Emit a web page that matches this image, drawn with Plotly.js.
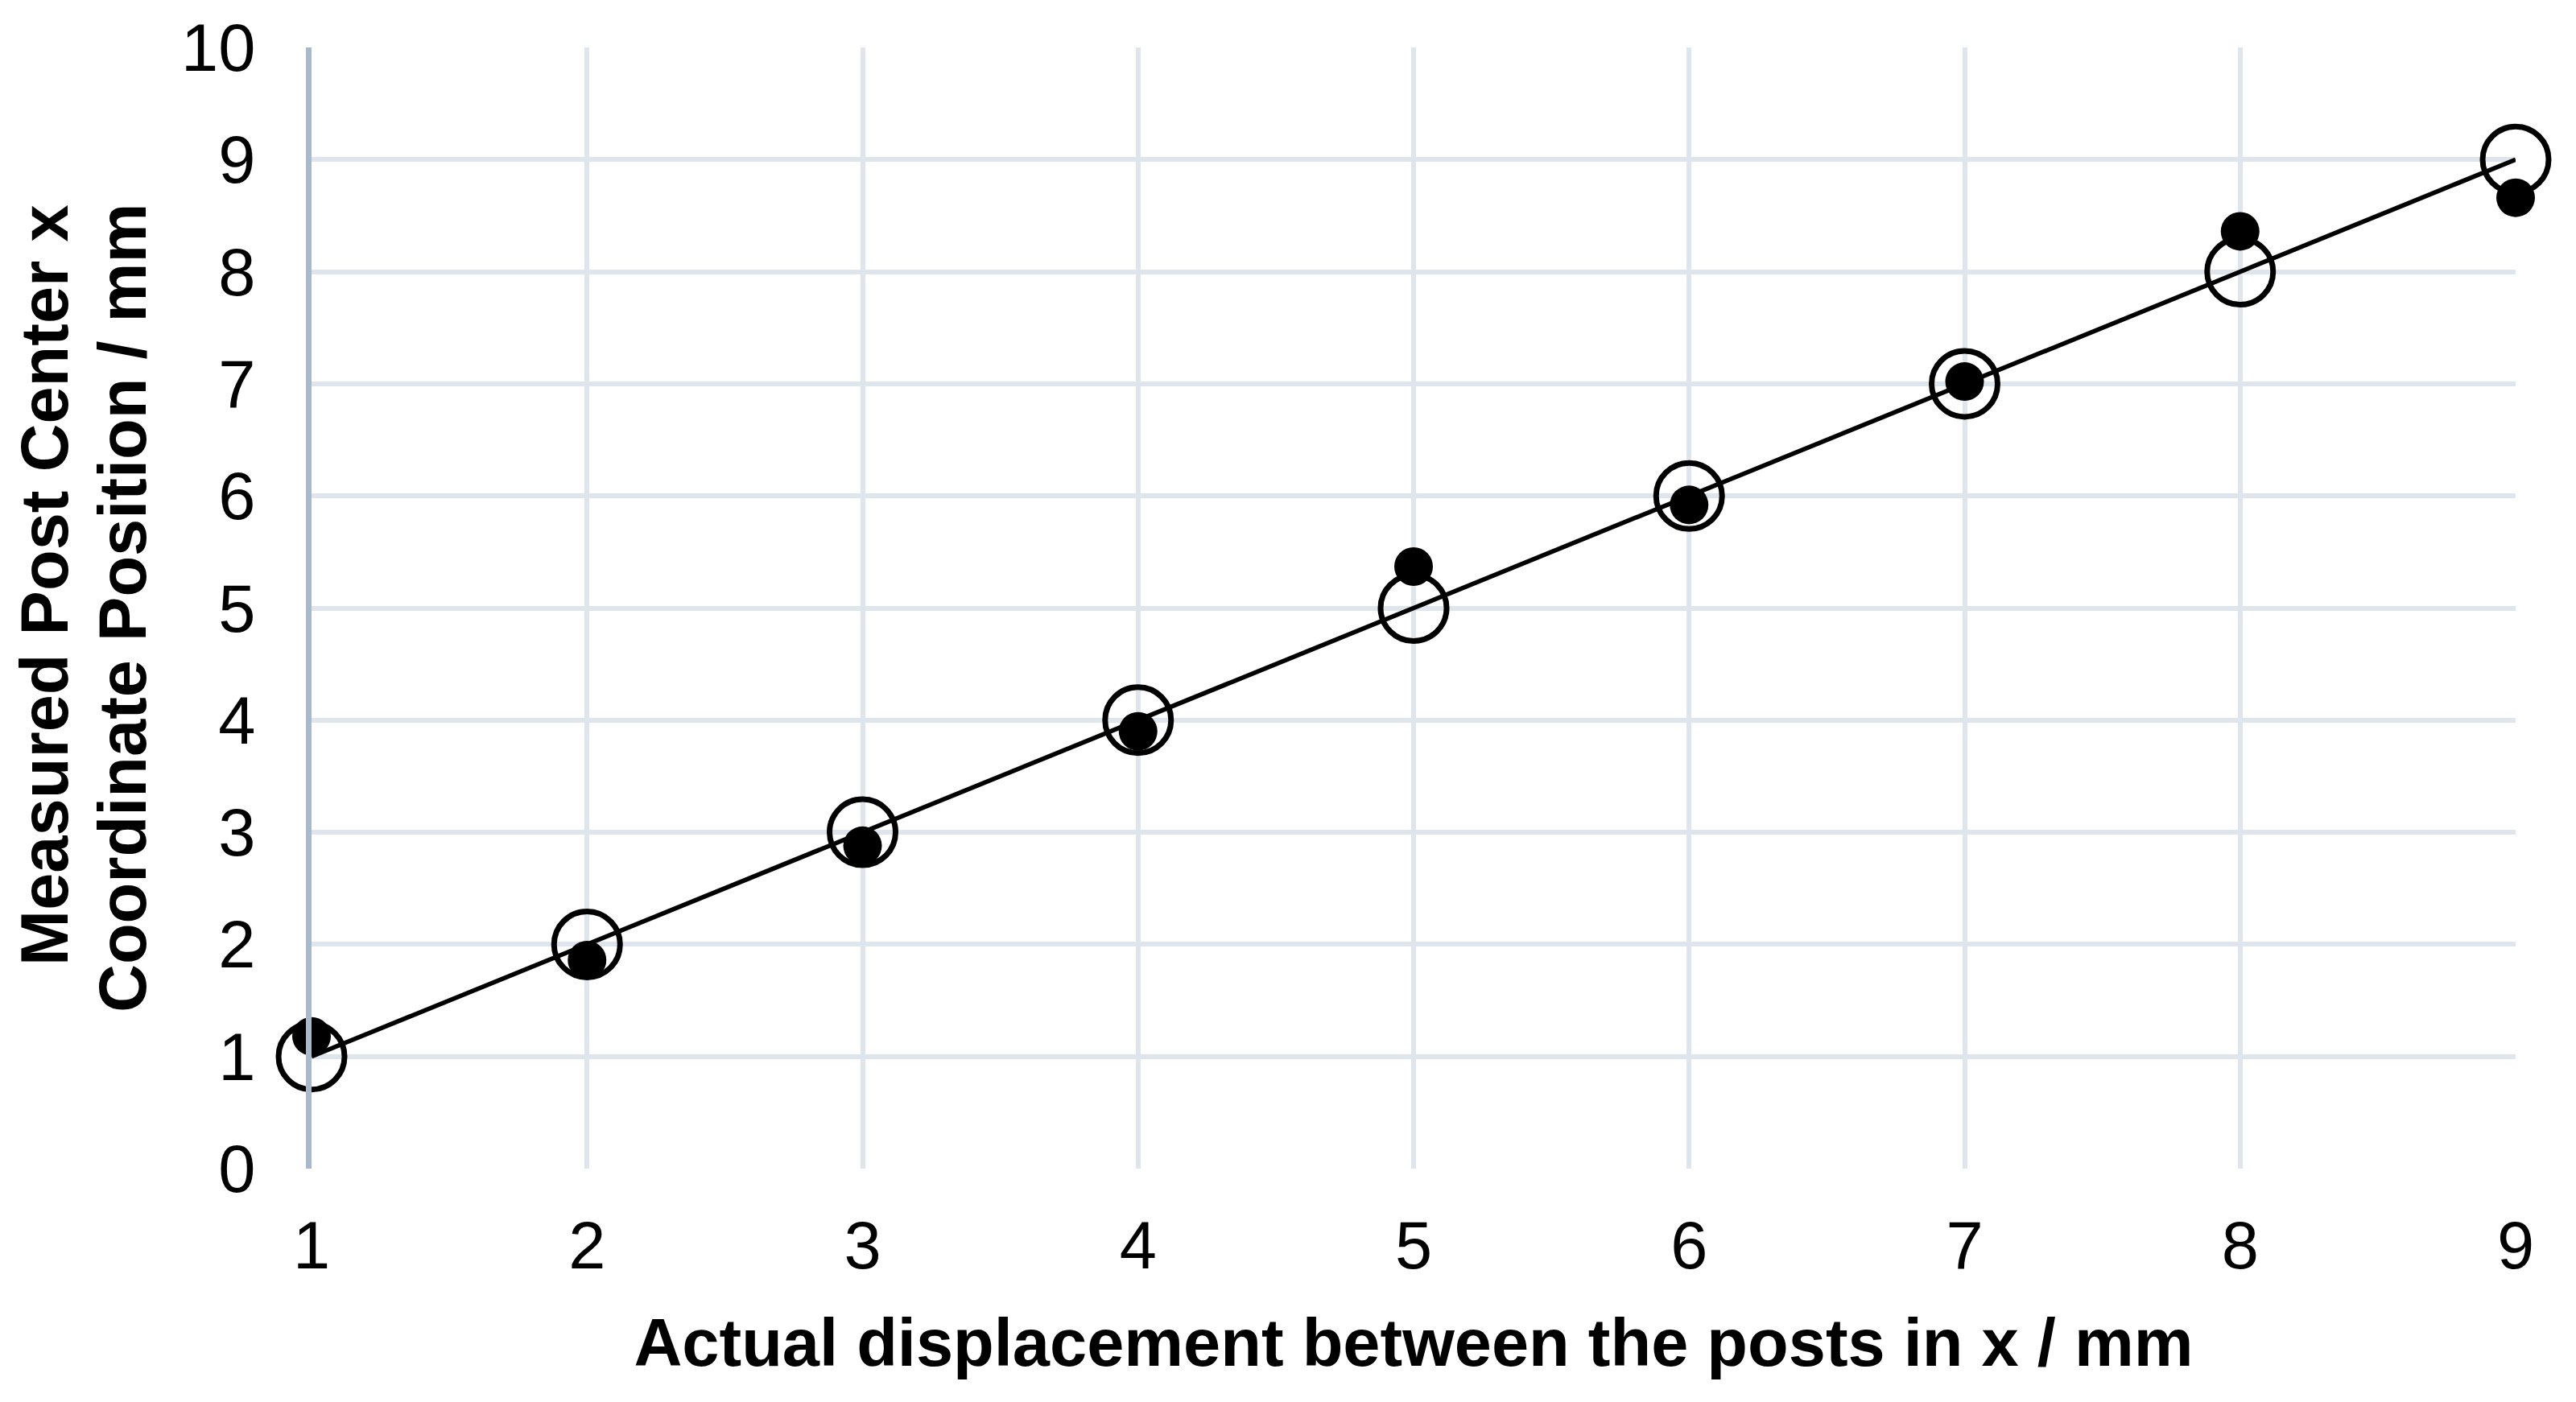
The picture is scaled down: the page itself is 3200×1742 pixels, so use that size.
<!DOCTYPE html>
<html>
<head>
<meta charset="utf-8">
<script src="https://cdn.plot.ly/plotly-3.0.1.min.js"></script>
<style>
  html, body { margin: 0; padding: 0; background: #ffffff; }
  #chart { width: 3200px; height: 1742px; }
</style>
</head>
<body>
<div id="chart"></div>
<script>
// Actual displacement between the posts (x, mm)
const actualX = [1, 2, 3, 4, 5, 6, 7, 8, 9];
// Ideal / expected positions (open circles)
const expectedY = [1, 2, 3, 4, 5, 6, 7, 8, 9];
// Measured post centre x positions (filled dots)
const measuredY = [1.18, 1.86, 2.88, 3.90, 5.37, 5.92, 7.02, 8.36, 8.66];
// Reference line y = x
const lineX = [1, 9];
const lineY = [1, 9];
// Tick labels
const xTicks = [1, 2, 3, 4, 5, 6, 7, 8, 9];
const yTicks = [0, 1, 2, 3, 4, 5, 6, 7, 8, 9, 10];
// Axis titles
const xTitle = 'Actual displacement between the posts in x / mm';
const yTitleLines = ['Measured Post Center x', 'Coordinate Position / mm'];

const FONT = 'Liberation Sans, Arial, Helvetica, sans-serif';

const traces = [
  {
    x: actualX, y: measuredY, type: 'scatter', mode: 'markers',
    marker: { symbol: 'circle', size: 48, color: '#000000' },
    cliponaxis: false, showlegend: false, name: 'Measured'
  },
  {
    x: actualX, y: expectedY, type: 'scatter', mode: 'markers',
    marker: { symbol: 'circle-open', size: 82, color: '#000000', line: { width: 7, color: '#000000' } },
    cliponaxis: false, showlegend: false, name: 'Actual'
  },
  {
    x: lineX, y: lineY, type: 'scatter', mode: 'lines',
    line: { color: '#000000', width: 5.6 },
    cliponaxis: false, showlegend: false, name: 'y = x'
  }
];

const layout = {
  width: 3200, height: 1742,
  paper_bgcolor: '#ffffff', plot_bgcolor: '#ffffff',
  margin: { l: 387, r: 75, t: 59, b: 290, pad: 0 },
  font: { family: FONT, color: '#000000', size: 83 },
  xaxis: {
    range: [1, 9], tickvals: xTicks, ticktext: xTicks.map(String),
    showgrid: true, gridcolor: '#DEE5EC', gridwidth: 6,
    zeroline: false, showline: false, ticks: '',
    ticklabelstandoff: 40,
    tickfont: { family: FONT, size: 83, color: '#000000' },
    automargin: false,
    title: { text: '<b>' + xTitle + '</b>', font: { family: FONT, size: 83, color: '#000000' }, standoff: 45 }
  },
  yaxis: {
    range: [0, 10], tickvals: yTicks, ticktext: yTicks.map(String),
    showgrid: true, gridcolor: '#DEE5EC', gridwidth: 6,
    zeroline: false, showline: true, linecolor: '#A9B9CC', linewidth: 7, ticks: '',
    ticklabelstandoff: 46,
    tickfont: { family: FONT, size: 83, color: '#000000' },
    automargin: false
  },
  annotations: [
    {
      text: '<b>' + yTitleLines[0] + '</b>', textangle: -90, showarrow: false,
      xref: 'paper', yref: 'paper', x: 0, y: 0.5205, xshift: -331,
      xanchor: 'center', yanchor: 'middle',
      font: { family: FONT, size: 83, color: '#000000' }
    },
    {
      text: '<b>' + yTitleLines[1] + '</b>', textangle: -90, showarrow: false,
      xref: 'paper', yref: 'paper', x: 0, y: 0.4996, xshift: -235,
      xanchor: 'center', yanchor: 'middle',
      font: { family: FONT, size: 83, color: '#000000' }
    }
  ]
};

Plotly.newPlot('chart', traces, layout, { displayModeBar: false, staticPlot: true });
</script>
</body>
</html>
